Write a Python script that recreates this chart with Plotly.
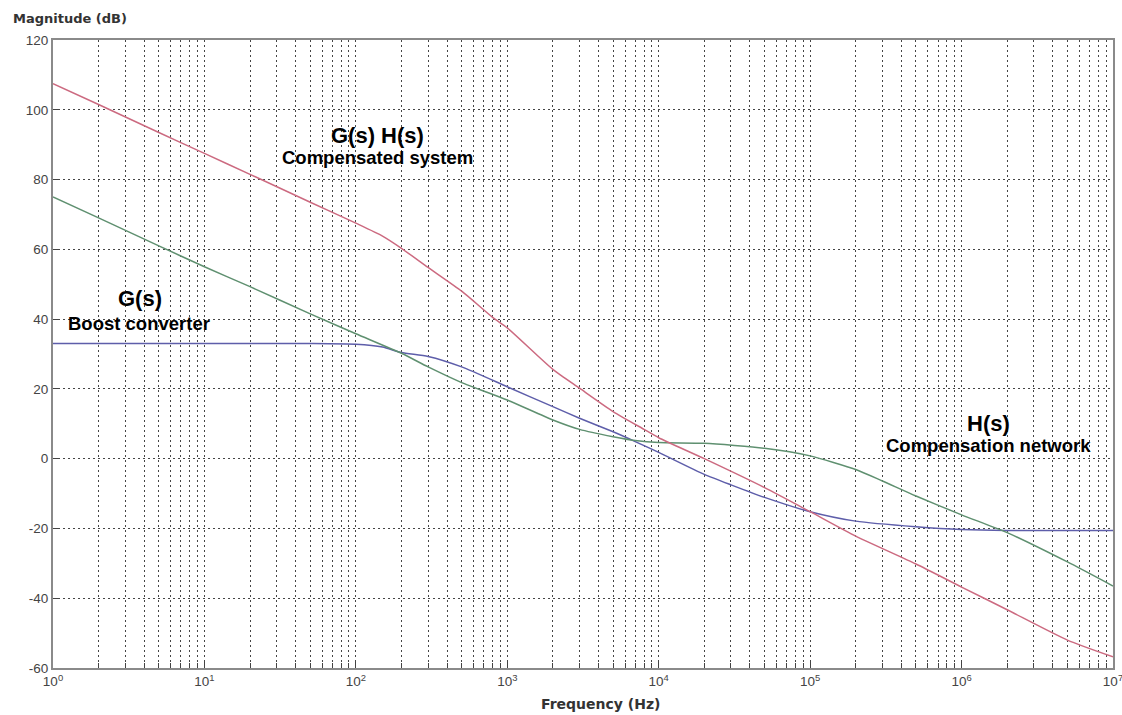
import plotly.graph_objects as go

# ---------------- data ----------------
freq_gh = [1, 2, 5, 10, 20, 50, 100, 150, 200, 300, 500, 800, 1000, 2000, 3000,
           5000, 8000, 10000, 20000, 50000, 1e5, 2e5, 5e5, 1e6, 2e6, 5e6, 1e7]
mag_gh = [107.5, 101.5, 93.5, 87.5, 81.5, 73.5, 67.5, 63.8, 60.3, 54.8, 48.0, 40.5, 37.5, 25.6, 20.2,
          13.5, 8.4, 6.0, 0.0, -8.3, -15.2, -22.2, -30.2, -36.8, -43.3, -52.0, -56.8]

freq_h = [1, 2, 5, 10, 20, 50, 100, 200, 300, 500, 1000, 2000, 3000, 5000, 7000,
          10000, 20000, 50000, 1e5, 2e5, 3e5, 5e5, 1e6, 2e6, 5e6, 1e7]
mag_h = [75.0, 69.0, 61.0, 55.0, 49.3, 41.5, 35.8, 30.2, 26.3, 21.8, 16.8, 11.1, 8.4, 6.3, 5.2,
         4.6, 4.4, 3.0, 0.8, -3.1, -6.4, -10.7, -16.1, -21.2, -29.6, -36.5]

freq_g = [1, 10, 50, 100, 150, 200, 300, 500, 1000, 2000, 3000, 5000, 7000, 10000,
          20000, 30000, 50000, 1e5, 2e5, 5e5, 1e6, 2e6, 1e7]
mag_g = [33.0, 33.0, 33.0, 32.8, 32.0, 30.4, 29.3, 26.3, 20.6, 14.9, 11.6, 7.7, 4.9, 1.8,
         -4.5, -7.5, -11.1, -15.2, -17.9, -19.5, -20.3, -20.6, -20.6]

xtick_vals = [1, 10, 100, 1000, 1e4, 1e5, 1e6, 1e7]
xtick_text = ["10<sup>0</sup>", "10<sup>1</sup>", "10<sup>2</sup>", "10<sup>3</sup>",
              "10<sup>4</sup>", "10<sup>5</sup>", "10<sup>6</sup>", "10<sup>7</sup>"]
ytick_vals = [-60, -40, -20, 0, 20, 40, 60, 80, 100, 120]
ytick_text = ["-60", "-40", "-20", "0", "20", "40", "60", "80", "100", "120"]

# ---------------- layout geometry ----------------
W, H = 1122, 715
L, R, T, B = 53, 9, 40, 47
PW, PH = W - L - R, H - T - B


def px(x):
    return (x - L) / PW


def py(y):
    return (H - B - y) / PH


GRID = "#454545"
GDASH = "2px,3px"
FRAME = "#8a8a8a"
TICKFONT = dict(family="Liberation Sans, Arial", size=13.5, color="#444")

fig = go.Figure()
fig.add_trace(go.Scatter(x=freq_g, y=mag_g, mode="lines", name="G(s)",
                         line=dict(color="#5e5eaa", width=1.5, shape="spline", smoothing=0.6)))
fig.add_trace(go.Scatter(x=freq_h, y=mag_h, mode="lines", name="H(s)",
                         line=dict(color="#5f9070", width=1.5, shape="spline", smoothing=0.6)))
fig.add_trace(go.Scatter(x=freq_gh, y=mag_gh, mode="lines", name="G(s)H(s)",
                         line=dict(color="#cc6a80", width=1.5, shape="spline", smoothing=0.6)))

boxes = [(247, 113, 490, 178), (55, 275, 233, 342), (870, 398, 1107, 462)]
shapes = [dict(type="rect", xref="paper", yref="paper",
               x0=px(a), x1=px(c), y0=py(d), y1=py(b),
               fillcolor="white", line=dict(width=0), layer="between")
          for a, b, c, d in boxes]

LBL = "Liberation Sans, Arial"
annots = [
    (377, 135, "<b>G(s) H(s)</b>", 22),
    (377, 158, "<b>Compensated system</b>", 18.5),
    (140, 298, "<b>G(s)</b>", 22),
    (139, 323, "<b>Boost converter</b>", 18.5),
    (988, 423, "<b>H(s)</b>", 22),
    (988, 445, "<b>Compensation network</b>", 18.5),
]
annotations = [dict(x=px(x), y=py(y), xref="paper", yref="paper", text=t,
                    showarrow=False, xanchor="center", yanchor="middle",
                    font=dict(family=LBL, size=s, color="black"))
               for x, y, t, s in annots]
annotations.append(dict(x=px(11), y=py(19), xref="paper", yref="paper",
                        text="<b>Magnitude (dB)</b>", showarrow=False,
                        xanchor="left", yanchor="middle",
                        font=dict(family="DejaVu Sans", size=13, color="#333")))
annotations.append(dict(x=px(600), y=py(704), xref="paper", yref="paper",
                        text="<b>Frequency (Hz)</b>", showarrow=False,
                        xanchor="center", yanchor="middle",
                        font=dict(family="DejaVu Sans", size=14, color="#333")))

fig.update_layout(
    width=W, height=H,
    margin=dict(l=L, r=R, t=T, b=B, pad=0, autoexpand=False),
    paper_bgcolor="white", plot_bgcolor="white",
    showlegend=False,
    shapes=shapes,
    annotations=annotations,
    xaxis=dict(type="log", range=[0, 7], automargin=False, ticklabeloverflow="allow",
               tickvals=xtick_vals, ticktext=xtick_text,
               tickfont=TICKFONT, ticks="inside", ticklen=6, tickcolor="#444",
               showgrid=True, gridcolor=GRID, griddash=GDASH, gridwidth=1,
               minor=dict(dtick="D1", showgrid=True, gridcolor=GRID, griddash=GDASH,
                          gridwidth=1, ticks="inside", ticklen=5, tickcolor="#444"),
               showline=True, linecolor=FRAME, linewidth=2, mirror=True,
               zeroline=False),
    yaxis=dict(range=[-60, 120], automargin=False,
               tickvals=ytick_vals, ticktext=ytick_text,
               tickfont=TICKFONT, ticks="inside", ticklen=6, tickcolor="#444",
               showgrid=True, gridcolor=GRID, griddash=GDASH, gridwidth=1,
               showline=True, linecolor=FRAME, linewidth=2, mirror=True,
               zeroline=False),
)

fig.write_html(
    "out.html",
    config={"displayModeBar": False},
    post_script="document.body.style.margin='0';document.body.style.overflow='hidden';",
)
